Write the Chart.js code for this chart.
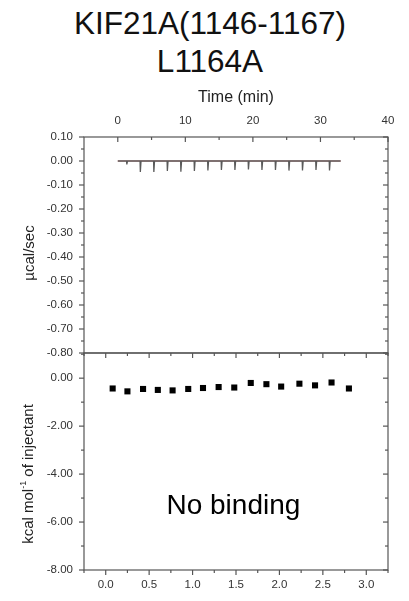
<!DOCTYPE html>
<html>
<head>
<meta charset="utf-8">
<script src="https://cdn.jsdelivr.net/npm/chart.js@4"></script>
<style>
  body { margin: 0; background: #fff; }
  #wrap { position: relative; width: 409px; height: 601px; overflow: hidden; }
  #title { position: absolute; left: 11px; top: 4px; width: 398px; text-align: center;
           font: 31.5px/38px 'Liberation Sans', Arial, sans-serif; color: #111; }
  canvas { position: absolute; left: 0; }
  #raw-chart { top: 0; }
  #fit-chart { top: 340px; }
</style>
</head>
<body>
<div id="wrap">
  <div id="title">KIF21A(1146-1167)<br>L1164A</div>
  <canvas id="raw-chart" width="409" height="366"></canvas>
  <canvas id="fit-chart" width="409" height="261"></canvas>
</div>
<script>
// raw ITC trace (top panel)
const injectionTimes = [1.3, 3.3, 5.3, 7.3, 9.3, 11.3, 13.3, 15.3, 17.3, 19.3, 21.3, 23.3, 25.3, 27.3, 29.3, 31.3]
const injectionPeaks = [-0.014, -0.046, -0.046, -0.042, -0.045, -0.042, -0.039, -0.037, -0.037, -0.035, -0.037, -0.037, -0.040, -0.039, -0.037, -0.039]
const baselineTimes = [0, 33]
const baselineValues = [0, 0]

// integrated heats (bottom panel)
const molarRatio = [0.08, 0.25, 0.43, 0.60, 0.77, 0.95, 1.12, 1.30, 1.48, 1.67, 1.85, 2.02, 2.23, 2.41, 2.60, 2.80]
const heatPerInjection = [-0.43, -0.55, -0.45, -0.49, -0.51, -0.45, -0.41, -0.37, -0.39, -0.20, -0.25, -0.35, -0.23, -0.30, -0.18, -0.43]

// ticks
const timeTicks = [0, 10, 20, 30, 40]
const timeMinor = [5, 15, 25, 35]
const rateTicks = [0.1, 0, -0.1, -0.2, -0.3, -0.4, -0.5, -0.6, -0.7, -0.8]
const rateMinor = [0.05, -0.05, -0.15, -0.25, -0.35, -0.45, -0.55, -0.65, -0.75]
const ratioTicks = [0, 0.5, 1, 1.5, 2, 2.5, 3]
const ratioMinor = [-0.25, 0.25, 0.75, 1.25, 1.75, 2.25, 2.75, 3.25]
const heatTicks = [0, -2, -4, -6, -8]
const heatMinor = [1, -1, -3, -5, -7]

Chart.defaults.font.family = "'Liberation Sans', Arial, sans-serif"
Chart.defaults.color = '#333'

const axisColor = '#555'

// box, inward/outward tick marks and free text
const framePlugin = {
    id: 'frame',
    afterDraw(chart, args, opts) {
        const ctx = chart.ctx
        const a = chart.chartArea
        ctx.save()
        ctx.strokeStyle = axisColor
        ctx.lineWidth = 1.2
        ctx.strokeRect(a.left, a.top, a.right - a.left, a.bottom - a.top)

        opts.marks.forEach(m => {
            const s = chart.scales[m.scale]
            const out = m.dir === 'out' ? -1 : 1
            ;[[m.major, 5], [m.minor, 3]].forEach(([vals, len]) => {
                vals.forEach(v => {
                    const p = s.getPixelForValue(v)
                    ctx.beginPath()
                    if (m.edge === 'left') { ctx.moveTo(a.left, p); ctx.lineTo(a.left + out * len, p) }
                    if (m.edge === 'right') { ctx.moveTo(a.right, p); ctx.lineTo(a.right - out * len, p) }
                    if (m.edge === 'top') { ctx.moveTo(p, a.top); ctx.lineTo(p, a.top + out * len) }
                    if (m.edge === 'bottom') { ctx.moveTo(p, a.bottom); ctx.lineTo(p, a.bottom - out * len) }
                    ctx.stroke()
                })
            })
        })

        ;(opts.texts || []).forEach(t => {
            ctx.save()
            ctx.fillStyle = t.color || '#222'
            ctx.textBaseline = 'middle'
            ctx.textAlign = 'left'
            let x = t.x, y = t.y
            if (t.scaleX) {
                x = chart.scales[t.scaleX].getPixelForValue(t.x)
                y = chart.scales[t.scaleY].getPixelForValue(t.y)
            }
            ctx.translate(x, y)
            if (t.rotate) ctx.rotate(-Math.PI / 2)
            const parts = t.parts.map(p => {
                ctx.font = (p.sup ? t.size * 0.6 : t.size) + "px 'Liberation Sans', Arial, sans-serif"
                return { ...p, w: ctx.measureText(p.text).width }
            })
            let cx = -parts.reduce((sum, p) => sum + p.w, 0) / 2
            parts.forEach(p => {
                ctx.font = (p.sup ? t.size * 0.6 : t.size) + "px 'Liberation Sans', Arial, sans-serif"
                ctx.fillText(p.text, cx, p.sup ? -t.size * 0.35 : 0)
                cx += p.w
            })
            ctx.restore()
        })
        ctx.restore()
    }
}

function fixTicks(values) {
    return scale => { scale.ticks = values.map(v => ({ value: v })) }
}

// fixed axis size, and no extra room for overhanging labels
function fixSize(prop, size) {
    return s => {
        s[prop] = size
        s.paddingTop = 0
        s.paddingBottom = 0
        s.paddingLeft = 0
        s.paddingRight = 0
    }
}

// top panel
const trace = [{ x: baselineTimes[0], y: 0 }]
injectionTimes.forEach((t, i) => {
    trace.push({ x: t, y: 0 }, { x: t + 0.04, y: injectionPeaks[i] }, { x: t + 0.14, y: 0 })
})
trace.push({ x: baselineTimes[1], y: 0 })

new Chart(document.querySelector('#raw-chart'), {
    type: 'scatter',
    data: {
        datasets: [
            {
                data: trace,
                showLine: true,
                borderColor: '#5a5a5a',
                borderWidth: 1.3,
                pointRadius: 0,
                xAxisID: 'xTime',
                yAxisID: 'yTop'
            },
            {
                data: baselineTimes.map((t, i) => ({ x: t, y: baselineValues[i] })),
                showLine: true,
                borderColor: 'rgba(225, 80, 80, 0.8)',
                borderWidth: 1,
                pointRadius: 0,
                xAxisID: 'xTime',
                yAxisID: 'yTop'
            }
        ]
    },
    options: {
        responsive: false,
        animation: false,
        events: [],
        layout: { padding: { top: 75, right: 21, bottom: 13, left: 0 } },
        plugins: {
            legend: { display: false },
            tooltip: { enabled: false },
            frame: {
                marks: [
                    { scale: 'yTop', edge: 'left', dir: 'out', major: rateTicks, minor: rateMinor },
                    { scale: 'yTop', edge: 'right', dir: 'in', major: rateTicks, minor: rateMinor },
                    { scale: 'xTime', edge: 'top', dir: 'in', major: timeTicks, minor: timeMinor }
                ],
                texts: [
                    { parts: [{ text: 'µcal/sec' }], x: 30, y: 253, size: 15, rotate: true }
                ]
            }
        },
        scales: {
            xTime: {
                type: 'linear',
                position: 'top',
                min: -5,
                max: 40,
                afterBuildTicks: fixTicks(timeTicks),
                afterFit: fixSize('height', 62),
                grid: { display: false, drawTicks: false },
                border: { display: false },
                ticks: { font: { size: 11.5 }, padding: 9, maxRotation: 0 },
                title: { display: true, text: 'Time (min)', font: { size: 16 }, color: '#222', padding: { top: 13, bottom: 0 } }
            },
            yTop: {
                type: 'linear',
                position: 'left',
                min: -0.8,
                max: 0.1,
                afterBuildTicks: fixTicks(rateTicks),
                afterFit: fixSize('width', 84),
                grid: { display: false, drawTicks: false },
                border: { display: false },
                ticks: { font: { size: 11.5 }, padding: 11, callback: v => v.toFixed(2) }
            }
        }
    },
    plugins: [framePlugin]
})

// bottom panel
new Chart(document.querySelector('#fit-chart'), {
    type: 'scatter',
    data: {
        datasets: [{
            data: molarRatio.map((r, i) => ({ x: r, y: heatPerInjection[i] })),
            pointStyle: 'rect',
            pointRadius: 4.3,
            backgroundColor: '#000',
            borderColor: '#000',
            borderWidth: 0,
            xAxisID: 'xRatio',
            yAxisID: 'yBot'
        }]
    },
    options: {
        responsive: false,
        animation: false,
        events: [],
        layout: { padding: { top: 13, right: 21, bottom: 0, left: 0 } },
        plugins: {
            legend: { display: false },
            tooltip: { enabled: false },
            frame: {
                marks: [
                    { scale: 'yBot', edge: 'left', dir: 'out', major: heatTicks, minor: heatMinor },
                    { scale: 'yBot', edge: 'right', dir: 'in', major: heatTicks, minor: heatMinor },
                    { scale: 'xRatio', edge: 'top', dir: 'in', major: ratioTicks, minor: ratioMinor },
                    { scale: 'xRatio', edge: 'bottom', dir: 'out', major: ratioTicks, minor: ratioMinor }
                ],
                texts: [
                    { parts: [{ text: 'kcal mol' }, { text: '-1', sup: true }, { text: ' of injectant' }], x: 29, y: 134, size: 15, rotate: true },
                    { parts: [{ text: 'No binding' }], x: 1.47, y: -5.35, scaleX: 'xRatio', scaleY: 'yBot', size: 28, color: '#000' }
                ]
            }
        },
        scales: {
            xRatio: {
                type: 'linear',
                position: 'bottom',
                min: -0.25,
                max: 3.25,
                afterBuildTicks: fixTicks(ratioTicks),
                afterFit: fixSize('height', 31),
                grid: { display: false, drawTicks: false },
                border: { display: false },
                ticks: { font: { size: 11.5 }, padding: 8, maxRotation: 0, callback: v => v.toFixed(1) }
            },
            yBot: {
                type: 'linear',
                position: 'left',
                min: -8,
                max: 1.05,
                afterBuildTicks: fixTicks(heatTicks),
                afterFit: fixSize('width', 84),
                grid: { display: false, drawTicks: false },
                border: { display: false },
                ticks: { font: { size: 11.5 }, padding: 11, callback: v => v.toFixed(2) }
            }
        }
    },
    plugins: [framePlugin]
})
</script>
</body>
</html>
